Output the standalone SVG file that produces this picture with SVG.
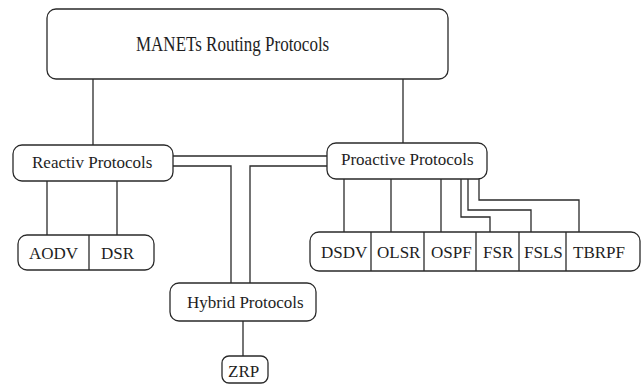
<svg xmlns="http://www.w3.org/2000/svg" width="642" height="385" viewBox="0 0 642 385">
<style>
.box{fill:#fff;stroke:#2a2a2a;stroke-width:1.3}
.ln{fill:none;stroke:#2a2a2a;stroke-width:1.3}
text{font-family:"Liberation Serif","Times New Roman",serif;font-size:17px;fill:#1e1e1e}
</style>
<rect width="642" height="385" fill="#fff"/>
<g id="connectors">
<line class="ln" x1="93" y1="79" x2="93" y2="145"/>
<line class="ln" x1="403" y1="79" x2="403" y2="143"/>
<line class="ln" x1="173" y1="156" x2="327" y2="156"/>
<polyline class="ln" points="173,166 231,166 231,283"/>
<polyline class="ln" points="327,166 250,166 250,283"/>
<line class="ln" x1="47" y1="181" x2="47" y2="235"/>
<line class="ln" x1="117" y1="181" x2="117" y2="235"/>
<line class="ln" x1="243" y1="321" x2="243" y2="356"/>
<line class="ln" x1="344" y1="179" x2="344" y2="232"/>
<line class="ln" x1="391" y1="179" x2="391" y2="232"/>
<line class="ln" x1="441" y1="179" x2="441" y2="232"/>
<polyline class="ln" points="461,179 461,217 490,217 490,232"/>
<polyline class="ln" points="468,179 468,210 531,210 531,232"/>
<polyline class="ln" points="479,179 479,200 579,200 579,232"/>
</g>
<g id="manets">
<rect class="box" x="47" y="9" width="401" height="70" rx="9"/>
<text transform="translate(136,51) scale(1,1.18)">MANETs Routing Protocols</text>
</g>
<g id="reactiv">
<rect class="box" x="13" y="145" width="160" height="36" rx="9"/>
<text x="32" y="168">Reactiv Protocols</text>
</g>
<g id="proactive">
<rect class="box" x="327" y="143" width="160" height="36" rx="9"/>
<text x="341" y="165">Proactive Protocols</text>
</g>
<g id="hybrid">
<rect class="box" x="170" y="283" width="146" height="38" rx="9"/>
<text x="187" y="308">Hybrid Protocols</text>
</g>
<g id="zrp">
<rect class="box" x="222" y="356" width="46" height="27" rx="7"/>
<text x="228" y="377">ZRP</text>
</g>
<g id="reactive-list">
<rect class="box" x="18" y="235" width="136" height="35" rx="9"/>
<line class="ln" x1="89" y1="235" x2="89" y2="270"/>
<text x="29" y="259">AODV</text>
<text x="101" y="259">DSR</text>
</g>
<g id="proactive-list">
<rect class="box" x="310" y="232" width="330" height="39" rx="9"/>
<line class="ln" x1="371" y1="232" x2="371" y2="271"/>
<line class="ln" x1="424" y1="232" x2="424" y2="271"/>
<line class="ln" x1="476" y1="232" x2="476" y2="271"/>
<line class="ln" x1="519" y1="232" x2="519" y2="271"/>
<line class="ln" x1="566" y1="232" x2="566" y2="271"/>
<text x="321" y="258">DSDV</text>
<text x="377" y="258">OLSR</text>
<text x="431" y="258">OSPF</text>
<text x="483" y="258">FSR</text>
<text x="524" y="258">FSLS</text>
<text x="573" y="258">TBRPF</text>
</g>
</svg>
